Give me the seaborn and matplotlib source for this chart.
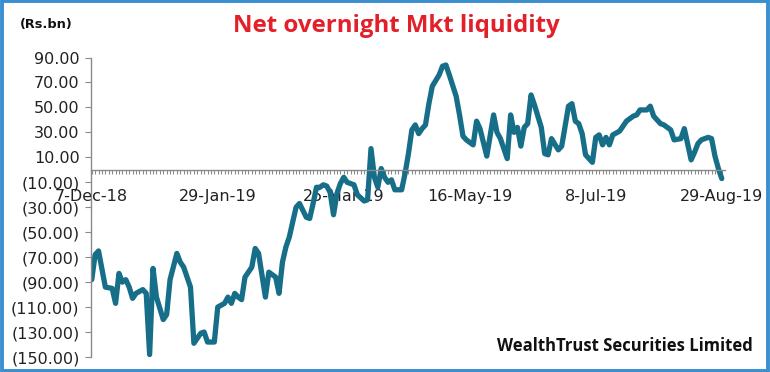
import numpy as np
import pandas as pd
import seaborn as sns
import matplotlib
matplotlib.use("Agg")
import matplotlib.pyplot as plt
from matplotlib.ticker import FixedLocator, FuncFormatter

# trading-day position (from 7-Dec-18) and net overnight liquidity (Rs.bn)
day_idx = [0, 1, 2, 4, 6, 7, 8, 9, 10, 11, 12, 13, 15, 16, 17, 18, 19, 21, 22, 23,
           25, 26, 27, 29, 30, 32, 33, 34, 36, 37, 39, 40, 41, 42, 43, 44, 45, 47, 48, 49,
           51, 52, 54, 55, 56, 57, 58, 60, 61, 63, 64, 65, 66, 67, 68, 69, 70, 71, 72, 73,
           74, 75, 77, 78, 80, 81, 82, 83, 84, 85, 86, 87, 88, 89, 91, 92, 93, 94, 95, 96,
           97, 98, 99, 100, 102, 103, 104, 105, 107, 108, 109, 110, 112, 113, 114, 116, 118, 119, 120, 122,
           123, 124, 125, 126, 127, 128, 129, 130, 132, 133, 134, 135, 137, 138, 140, 141, 142, 143, 144, 145,
           147, 148, 149, 150, 151, 152, 153, 155, 156, 157, 159, 160, 161, 163, 164, 165, 167, 168, 170, 171,
           173, 174, 176, 177, 178, 179, 181, 182, 183, 184, 185]
liquidity = [-88, -68, -65, -94, -95, -107, -83, -90, -88, -94, -103, -99, -96, -99, -148, -79, -102, -120, -116, -88,
             -67, -74, -78, -94, -139, -131, -130, -138, -138, -110, -107, -102, -107, -99, -102, -104, -86, -78, -63, -67,
             -102, -82, -86, -99, -74, -62, -54, -30, -27, -38, -39, -27, -14, -14, -12, -13, -18, -36, -19, -11,
             -6, -10, -12, -20, -25, -24, 17, -6, -14, 1, -6, -10, -8, -16, -16, -3, 13, 32, 36, 29,
             33, 36, 53, 67, 76, 83, 84, 76, 59, 44, 27, 24, 20, 39, 33, 11, 44, 30, 25, 9,
             44, 30, 34, 19, 34, 37, 60, 52, 34, 13, 12, 25, 16, 19, 51, 53, 39, 37, 29, 12,
             6, 26, 28, 20, 26, 20, 28, 31, 35, 39, 43, 44, 48, 48, 51, 43, 37, 36, 32, 24,
             25, 33, 8, 14, 21, 24, 26, 25, 11, 1, -7]

tick_pos = [0, 37, 74, 111, 148, 185]
tick_labels = ["7-Dec-18", "29-Jan-19", "25-Mar-19", "16-May-19", "8-Jul-19", "29-Aug-19"]
y_ticks = [90, 70, 50, 30, 10, -10, -30, -50, -70, -90, -110, -130, -150]

line_color = "#176e88"
axis_grey = "#8a8a8a"

sns.set_style("white")
plt.rcParams["font.family"] = ["DejaVu Sans"]

fig = plt.figure(figsize=(7.7, 3.72), dpi=100)
fig.patch.set_facecolor("white")
ax = fig.add_axes([0.1178, 0.0403, 0.824, 0.8051])

df = pd.DataFrame({"day": day_idx, "value": liquidity})
sns.lineplot(data=df, x="day", y="value", ax=ax, color=line_color, linewidth=3.8,
             solid_joinstyle="round", solid_capstyle="round")

ax.set_xlim(-0.3, 186)
ax.set_ylim(-150, 90)
ax.set_xlabel("")
ax.set_ylabel("")

# x axis sits on zero, small tick at every trading day
ax.spines["bottom"].set_position(("data", 0))
ax.spines["right"].set_visible(False)
ax.spines["top"].set_visible(False)
for s in ["left", "bottom"]:
    ax.spines[s].set_color(axis_grey)
    ax.spines[s].set_linewidth(1.0)

ax.xaxis.set_major_locator(FixedLocator(tick_pos))
ax.set_xticklabels(tick_labels)
ax.xaxis.set_minor_locator(FixedLocator(np.arange(0, 186)))
ax.tick_params(axis="x", which="both", direction="out", length=3, width=0.8,
               color=axis_grey, bottom=True)
ax.tick_params(axis="x", which="major", pad=11, labelsize=11.5, labelcolor="#222222")

ax.set_yticks(y_ticks)
ax.yaxis.set_major_formatter(FuncFormatter(
    lambda v, p: f"{v:.2f}" if v >= 0 else f"({abs(v):.2f})"))
ax.tick_params(axis="y", direction="out", length=4, width=0.8, color=axis_grey,
               left=True, labelsize=11.5, labelcolor="#222222", pad=4)

fig.text(0.515, 0.914, "Net overnight Mkt liquidity", color="#e3202a",
         fontsize=17.3, fontweight="bold", family="Open Sans", ha="center", va="baseline")
fig.text(0.026, 0.925, "(Rs.bn)", color="#111111", fontsize=9.3, fontweight="bold",
         ha="left", va="baseline")
fig.text(0.977, 0.057, "WealthTrust Securities Limited", color="#111111",
         fontsize=12, fontweight="bold", family="Open Sans", ha="right", va="baseline")

# blue frame round the picture
frame = plt.Rectangle((0.002, 0.003), 0.996, 0.994, transform=fig.transFigure,
                      fill=False, edgecolor="#3a8fd0", linewidth=2.8)
fig.patches.append(frame)

fig.savefig("out.png", dpi=100)
